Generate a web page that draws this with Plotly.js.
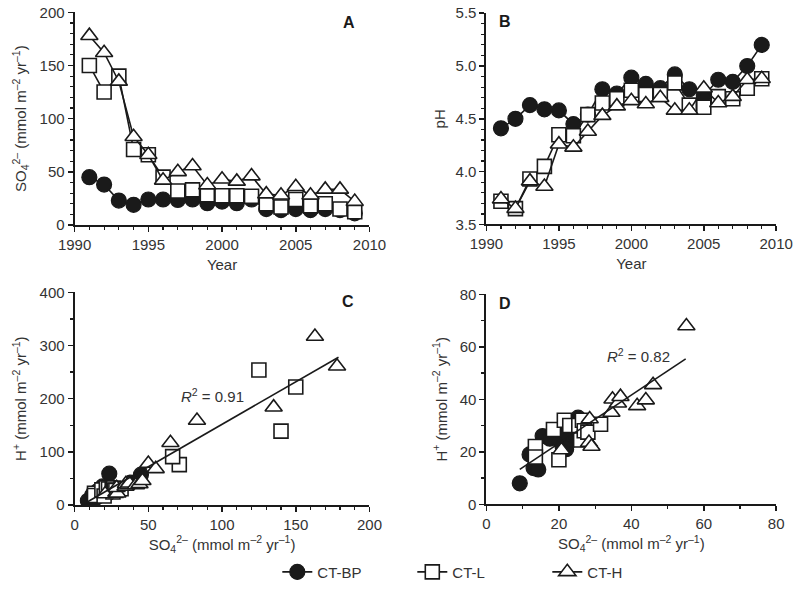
<!DOCTYPE html>
<html>
<head>
<meta charset="utf-8">
<script src="https://cdn.plot.ly/plotly-3.0.1.min.js"></script>
<style>html,body{margin:0;padding:0;background:#fff;}#chart{width:798px;height:608px;}</style>
</head>
<body>
<div id="chart"></div>
<script>
// ---------- Data ----------
const years = [1991,1992,1993,1994,1995,1996,1997,1998,1999,2000,2001,2002,2003,2004,2005,2006,2007,2008,2009];

// Panel A: SO4 deposition (mmol m-2 yr-1)
const so4_BP = [45,38,23,19,24,24,23.5,24,20.5,22,20.5,24,15,14,15,14,15,14,11];
const so4_L  = [150,125,140,71,66,45,32,33,28.5,27.5,27.5,27,20,17,24,18,20,15,12.5];
const so4_H  = [178,162,135,83,66,42,50,55.5,37.5,43,41,46,29,28,36,28,33.5,33.5,22];

// Panel B: pH
const ph_BP = [4.41,4.50,4.63,4.59,4.58,4.45,4.54,4.78,4.74,4.89,4.83,4.79,4.92,4.78,4.72,4.87,4.85,5.00,5.20];
const ph_L  = [3.72,3.65,3.93,4.05,4.35,4.34,4.54,4.65,4.69,4.77,4.73,4.73,4.84,4.63,4.61,4.71,4.69,4.79,4.88];
const ph_H  = [3.74,3.65,3.91,3.86,4.26,4.23,4.38,4.53,4.62,4.67,4.64,4.70,4.58,4.58,4.79,4.65,4.71,4.87,4.88];

// Panel C: H+ vs SO4 (all years)
const cBP_x = [45,38,23.5,19,24,9,12,13,14.3,15.5,17.5,20.2,21,22,22.5,23.4,24,25.3];
const cBP_y = [57,42,59,35,25,8,19,13.8,13.3,26,25,24.5,22,21,28,24.5,26,33];
const cL_x  = [150,125,140,71,66.5,13.5,13.5,18.5,20,21.5,23,25.5,26,26.5,27,28,31.5];
const cL_y  = [222,254,139,76,91,22,18,28.5,17,32,30,30,24.5,32,28,27.5,30.5];
const cH_x  = [178,163,135,83,65,50,20.7,28.3,29,28.5,34.5,34.8,36.3,37,41.6,44,46,55];
const cH_y  = [261,317,184,159,117,78,20.7,23.5,22,32.5,35,40,38.5,41,37.5,39.7,45.5,68];
const cFit_x = [8,179];
const cFit_y = [4.8,278];

// Panel D: H+ vs SO4 (later years)
const dBP_x = [9.2,11.9,13,14.3,15.5,17.5,20.2,21,22,22.5,23.4,24,25.3,22];
const dBP_y = [8,19,13.8,13.3,26,25,24.5,22,21,28,24.5,26,33,27];
const dL_x  = [13.5,13.5,18.5,20,21.5,23,25.5,26,26.5,27,28,31.5];
const dL_y  = [22,18,28.5,17,32,30,30,24.5,32,28,27.5,30.5];
const dH_x  = [20.7,28.3,29,28.5,34.5,34.8,36.3,37,41.6,44,46,55.2];
const dH_y  = [20.7,23.5,22,32.5,35,40,38.5,41,37.5,39.7,45.5,67.9];
const dFit_x = [9.2,55];
const dFit_y = [13.3,55.4];

const seriesNames = ['CT-BP','CT-L','CT-H'];

// ---------- Styles ----------
const FONT = 'Liberation Sans, Arial, sans-serif';
const mk = {
  BP: {symbol:'circle', size:15, color:'#1a1a1a', line:{color:'#1a1a1a', width:1.2}},
  L:  {symbol:'square', size:14, color:'#ffffff', line:{color:'#1a1a1a', width:1.6}},
  H:  {symbol:'triangle-up', size:15, color:'#ffffff', line:{color:'#1a1a1a', width:1.6}}
};
const ln = {color:'#1a1a1a', width:1.6};

function tsA(x, y, m, name, xa, ya, show){
  return {x:x, y:y, type:'scatter', mode:'lines+markers', marker:m, line:ln, name:name,
          xaxis:xa, yaxis:ya, showlegend:show, hoverinfo:'skip'};
}
function pts(x, y, m, xa, ya){
  return {x:x, y:y, type:'scatter', mode:'markers', marker:m, xaxis:xa, yaxis:ya, showlegend:false, hoverinfo:'skip'};
}
function fit(x, y, xa, ya){
  return {x:x, y:y, type:'scatter', mode:'lines', line:{color:'#1a1a1a', width:1.6}, xaxis:xa, yaxis:ya, showlegend:false, hoverinfo:'skip'};
}

const data = [
  tsA(years, so4_BP, mk.BP, seriesNames[0], 'x', 'y', true),
  tsA(years, so4_L,  mk.L,  seriesNames[1], 'x', 'y', true),
  tsA(years, so4_H,  mk.H,  seriesNames[2], 'x', 'y', true),
  tsA(years, ph_BP, mk.BP, seriesNames[0], 'x2', 'y2', false),
  tsA(years, ph_L,  mk.L,  seriesNames[1], 'x2', 'y2', false),
  tsA(years, ph_H,  mk.H,  seriesNames[2], 'x2', 'y2', false),
  pts(cBP_x, cBP_y, mk.BP, 'x3', 'y3'),
  pts(cL_x,  cL_y,  mk.L,  'x3', 'y3'),
  pts(cH_x,  cH_y,  mk.H,  'x3', 'y3'),
  fit(cFit_x, cFit_y, 'x3', 'y3'),
  pts(dBP_x, dBP_y, mk.BP, 'x4', 'y4'),
  pts(dL_x,  dL_y,  mk.L,  'x4', 'y4'),
  pts(dH_x,  dH_y,  mk.H,  'x4', 'y4'),
  fit(dFit_x, dFit_y, 'x4', 'y4')
];

const tickFont = {family:FONT, size:15, color:'#333'};
const titleFont = {family:FONT, size:15, color:'#333'};
function ax(domain, range, dtick, minor, anchor, title, standoff, extra){
  const a = {
    domain:domain, range:range, dtick:dtick, tick0:range[0], anchor:anchor,
    showgrid:false, zeroline:false, showline:true, linecolor:'#1a1a1a', linewidth:2,
    ticks:'outside', ticklen:5, tickwidth:1.5, tickcolor:'#1a1a1a',
    minor:{dtick:minor, ticks:'outside', ticklen:3, tickwidth:1.2, tickcolor:'#1a1a1a', showgrid:false},
    tickfont:tickFont, automargin:false, fixedrange:true,
    title:{text:title, font:titleFont, standoff:standoff}
  };
  return Object.assign(a, extra||{});
}

const LX = [0.0935, 0.4630];
const RX = [0.6096, 0.9727];
const SO4T = 'SO<sub>4</sub><sup>2–</sup> (mmol m<sup>–2</sup> yr<sup>–1</sup>)';
const HT = 'H<sup>+</sup> (mmol m<sup>–2</sup> yr<sup>–1</sup>)';

const layout = {
  width:798, height:608,
  margin:{l:0, r:0, t:0, b:0},
  paper_bgcolor:'#fff', plot_bgcolor:'#fff',
  font:{family:FONT, color:'#333'},
  xaxis:  ax(LX, [1990,2010], 5, 1, 'y', 'Year', 7),
  yaxis:  ax([0.6299,0.9798], [0,200], 50, 10, 'x', SO4T, 9),
  xaxis2: ax(RX, [1990,2010], 5, 1, 'y2', 'Year', 7),
  yaxis2: ax([0.6308,0.9783], [3.5,5.5], 0.5, 0.1, 'x2', 'pH', 6, {tickformat:'.1f'}),
  xaxis3: ax(LX, [0,200], 50, 10, 'y3', SO4T, 7),
  yaxis3: ax([0.1694,0.5192], [0,400], 100, 50, 'x3', HT, 9),
  xaxis4: ax(RX, [0,80], 20, 10, 'y4', SO4T, 7),
  yaxis4: ax([0.1705,0.5160], [0,80], 20, 10, 'x4', HT, 9),
  showlegend:true,
  legend:{orientation:'h', x:0.3475, xanchor:'left', y:0.059, yanchor:'middle',
          font:{family:FONT, size:15, color:'#333'}, entrywidth:90, entrywidthmode:'pixels',
          bgcolor:'rgba(0,0,0,0)', itemclick:false, itemdoubleclick:false},
  annotations:[
    {text:'<b>A</b>', xref:'x', yref:'y', x:2008.6, y:190, showarrow:false, font:{family:FONT, size:16, color:'#1a1a1a'}},
    {text:'<b>B</b>', xref:'x2', yref:'y2', x:1991.3, y:5.42, showarrow:false, font:{family:FONT, size:16, color:'#1a1a1a'}},
    {text:'<b>C</b>', xref:'x3', yref:'y3', x:185.5, y:382, showarrow:false, font:{family:FONT, size:16, color:'#1a1a1a'}},
    {text:'<b>D</b>', xref:'x4', yref:'y4', x:5, y:76.5, showarrow:false, font:{family:FONT, size:16, color:'#1a1a1a'}},
    {text:'<i>R</i><sup>2</sup> = 0.91', xref:'x3', yref:'y3', x:93.5, y:206, showarrow:false, font:{family:FONT, size:15, color:'#333'}},
    {text:'<i>R</i><sup>2</sup> = 0.82', xref:'x4', yref:'y4', x:42, y:56.5, showarrow:false, font:{family:FONT, size:15, color:'#333'}}
  ]
};

Plotly.newPlot('chart', data, layout, {staticPlot:true, displayModeBar:false});
</script>
</body>
</html>
